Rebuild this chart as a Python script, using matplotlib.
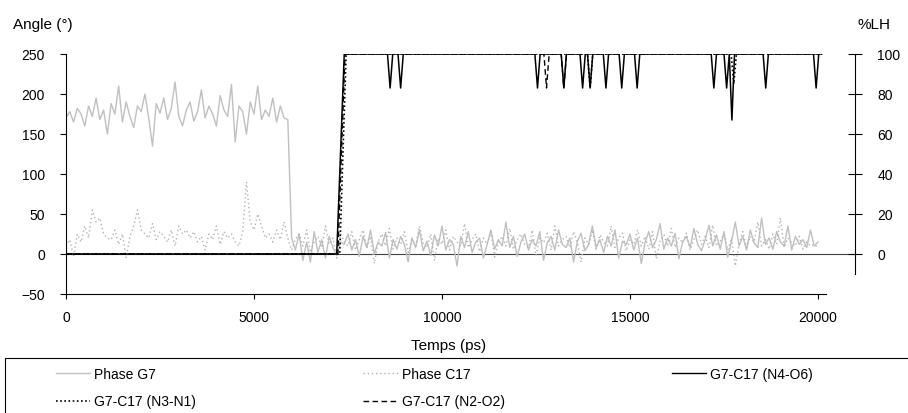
import numpy as np
import matplotlib
matplotlib.use("Agg")
import matplotlib.pyplot as plt
from matplotlib.lines import Line2D
from matplotlib.patches import Rectangle

plt.rcParams["font.family"] = ["Liberation Sans", "DejaVu Sans"]

# --- data ----------------------------------------------------------------
STEP = 100  # ps between samples of the phase angles

# Phase G7 (degrees), 0 -> 5900 ps, then 6000 -> 20000 ps
g7_before = [
    170, 178, 165, 182, 175, 160, 185, 172, 195, 168,
    180, 150, 188, 175, 210, 165, 190, 172, 158, 185,
    178, 200, 170, 135, 188, 176, 195, 168, 182, 215,
    172, 160, 180, 190, 166, 178, 205, 170, 185, 175,
    160, 198, 180, 172, 212, 140, 185, 178, 150, 190,
    175, 210, 168, 180, 172, 195, 165, 185, 170, 168,
]
g7_after = [
    20, 5, 25, -8, 15, -10, 28, 2, 18, -5, 22, 8, -2, 15,
    12, 25, 5, 18, -3, 22, 8, 30, 0, 15,
    10, 27, -5, 18, 6, 22, 12, -10, 20, 8,
    30, 4, 16, -2, 24, 10, 35, 5, 18, 12,
    -15, 22, 8, 28, 2, 15, 20, -5, 12, 30,
    6, 18, 10, 40, 8, 22, -3, 15, 25, 5,
    18, 10, 28, -8, 14, 22, 5, 30, 12, 8,
    20, -10, 16, 26, 4, 12, 35, 8, 18, 2,
    22, 10, 30, -5, 16, 12, 25, 5, 20, -12,
    14, 28, 8, 18, 38, 6, 20, 10, 26, -6,
    15, 22, 8, 32, 12, 4, 18, 36, 10, 24,
    6, 28, -4, 16, 40, 10, 22, 5, 30, 14,
    8, 45, 12, 20, 6, 28, 15, 10, 35, 5,
    22, 12, 18, 8, 30, 10, 15,
]

# Phase C17 (degrees)
c17_before = [
    10, 18, -3, 25, 15, 35, 20, 55, 40, 45,
    25, 20, 18, 30, 12, 25, -5, 22, 35, 55,
    30, 25, 20, 38, 18, 28, 22, 15, 30, 10,
    35, 25, 30, 20, 28, 15, 22, 5, 25, 18,
    35, 12, 28, 20, 25, 15, 10, 28, 90, 40,
    30, 50, 35, 20, 25, 15, 30, 18, 40, 20,
]
c17_after = [
    5, 18, 25, 10, 30, 2, 15, 22, 8, 35,
    12, 20, -5, 25, 15, 10, 28, 5, 18, 30,
    8, 22, -12, 15, 25, 10, 32, 6, 20, 12,
    28, 2, 18, 10, 35, 14, 8, 25, -8, 20,
    12, 30, 5, 22, 15, 10, 38, 8, 18, 25,
    3, 20, 12, 28, -4, 15, 22, 10, 32, 6,
    18, 25, 12, 8, 30, -2, 20, 14, 26, 5,
    35, 10, 18, 22, 8, 28, 15, -10, 20, 12,
    30, 6, 24, 15, 10, 35, 8, 20, 26, 4,
    18, 12, 30, 10, 22, 6, 28, -6, 16, 24,
    10, 32, 8, 20, 14, 26, 5, 18, 30, 12,
    22, 8, 36, 10, 16, 25, 5, 20, -15, 12,
    28, 8, 22, 15, 40, 10, 18, 6, 25, 12,
    45, 8, 20, 14, 10, 22, 6, 15, 10, 12, 8,
]

# H-bond occupancy (% LH), time in ps
n4o6_t = [0, 7200, 7400, 8550, 8620, 8690, 8830, 8900, 8970,
          12470, 12540, 12610, 13170, 13240, 13310, 13670, 13740, 13810,
          13870, 13940, 14010, 14290, 14360, 14430, 14710, 14780, 14850,
          15120, 15190, 15260, 17160, 17230, 17300, 17500, 17570, 17640,
          17710, 17780, 18540, 18610, 18680, 19880, 19950, 20020, 20100]
n4o6_v = [0, 0, 100, 100, 83, 100, 100, 83, 100,
          100, 83, 100, 100, 83, 100, 100, 83, 100,
          100, 83, 100, 100, 83, 100, 100, 83, 100,
          100, 83, 100, 100, 83, 100, 100, 83, 100,
          67, 100, 100, 83, 100, 100, 83, 100, 100]

n3n1_t = [0, 7280, 7450, 13870, 13940, 14010, 17690, 17760, 17830, 20100]
n3n1_v = [0, 0, 100, 100, 83, 100, 100, 85, 100, 100]

n2o2_t = [0, 7230, 7420, 12710, 12780, 12850, 13170, 13240, 13310, 20100]
n2o2_v = [0, 0, 100, 100, 83, 100, 100, 83, 100, 100]

x_ticks = [0, 5000, 10000, 15000, 20000]
angle_ticks = [-50, 0, 50, 100, 150, 200, 250]
lh_ticks = [0, 20, 40, 60, 80, 100]

# --- figure -------------------------------------------------------------
W, H = 908, 414
fig = plt.figure(figsize=(W / 100, H / 100), dpi=100, facecolor="white")
ax = fig.add_axes([66 / W, 119 / H, 789 / W, 240 / H])
ax2 = ax.twinx()

g7_t = np.concatenate([np.arange(len(g7_before)) * STEP,
                       len(g7_before) * STEP + np.arange(len(g7_after)) * STEP])
g7_v = np.array(g7_before + g7_after)
c17_t = np.concatenate([np.arange(len(c17_before)) * STEP,
                        len(c17_before) * STEP + np.arange(len(c17_after)) * STEP])
c17_v = np.array(c17_before + c17_after)

grey = "#c0c0c0"
ax.axhline(0, color="#404040", linewidth=0.8, zorder=1)
ax.plot(g7_t, g7_v, color=grey, linewidth=1.0, zorder=2)
ax.plot(c17_t, c17_v, color="#b4b4b4", linewidth=1.0, linestyle=(0, (1, 2)), zorder=2)

ax2.plot(n4o6_t, n4o6_v, color="black", linewidth=1.1)
ax2.plot(n3n1_t, n3n1_v, color="black", linewidth=1.2, linestyle=(0, (1, 1.5)))
ax2.plot(n2o2_t, n2o2_v, color="black", linewidth=1.0, linestyle=(0, (4, 2.5)))

ax.set_xlim(0, 20984)
ax.set_ylim(-50, 250)
ax2.set_ylim(-20, 100)

for s in ["top", "right"]:
    ax.spines[s].set_visible(False)
for s in ["top", "left", "bottom"]:
    ax2.spines[s].set_visible(False)
ax.spines["bottom"].set_bounds(0, 20200)
ax2.spines["right"].set_bounds(-10, 100)
for sp in [ax.spines["left"], ax.spines["bottom"], ax2.spines["right"]]:
    sp.set_linewidth(0.8)
    sp.set_color("black")

ax.set_xticks(x_ticks)
ax.set_yticks(angle_ticks)
ax2.set_yticks(lh_ticks)
ax.tick_params(axis="x", direction="out", length=3.5, width=0.8, pad=8, labelsize=10)
ax.tick_params(axis="y", direction="out", length=4.3, width=0.8, pad=11, labelsize=10)
ax2.tick_params(axis="y", direction="inout", length=10, width=0.8, pad=11, labelsize=10)

fig.text(13 / W, 1 - 25 / H, "Angle (°)", ha="left", va="center", fontsize=11)
fig.text(858 / W, 1 - 25 / H, "%LH", ha="left", va="center", fontsize=11)
fig.text(449 / W, 1 - 346 / H, "Temps (ps)", ha="center", va="center", fontsize=11)

# legend box running off the bottom/right edge like the reference
fig.patches.append(Rectangle((5 / W, -0.1), 1.1, (H - 359) / H + 0.1,
                             transform=fig.transFigure, fill=False,
                             edgecolor="black", linewidth=0.8))
handles = [
    Line2D([], [], color=grey, linewidth=1.0),
    Line2D([], [], color="black", linewidth=1.2, linestyle=(0, (1, 1.5))),
    Line2D([], [], color="#b4b4b4", linewidth=1.0, linestyle=(0, (1, 2))),
    Line2D([], [], color="black", linewidth=1.0, linestyle=(0, (4, 2.5))),
    Line2D([], [], color="black", linewidth=1.0),
]
labels = ["Phase G7", "G7-C17 (N3-N1)", "Phase C17", "G7-C17 (N2-O2)", "G7-C17 (N4-O6)"]
fig.legend(handles, labels, ncol=3, loc="upper left",
           bbox_to_anchor=(50 / W, 1 - 362 / H), frameon=False, fontsize=10,
           handlelength=2.5, handletextpad=0.3, columnspacing=12,
           labelspacing=1.0, borderaxespad=0)

fig.savefig("out.png", dpi=100)
